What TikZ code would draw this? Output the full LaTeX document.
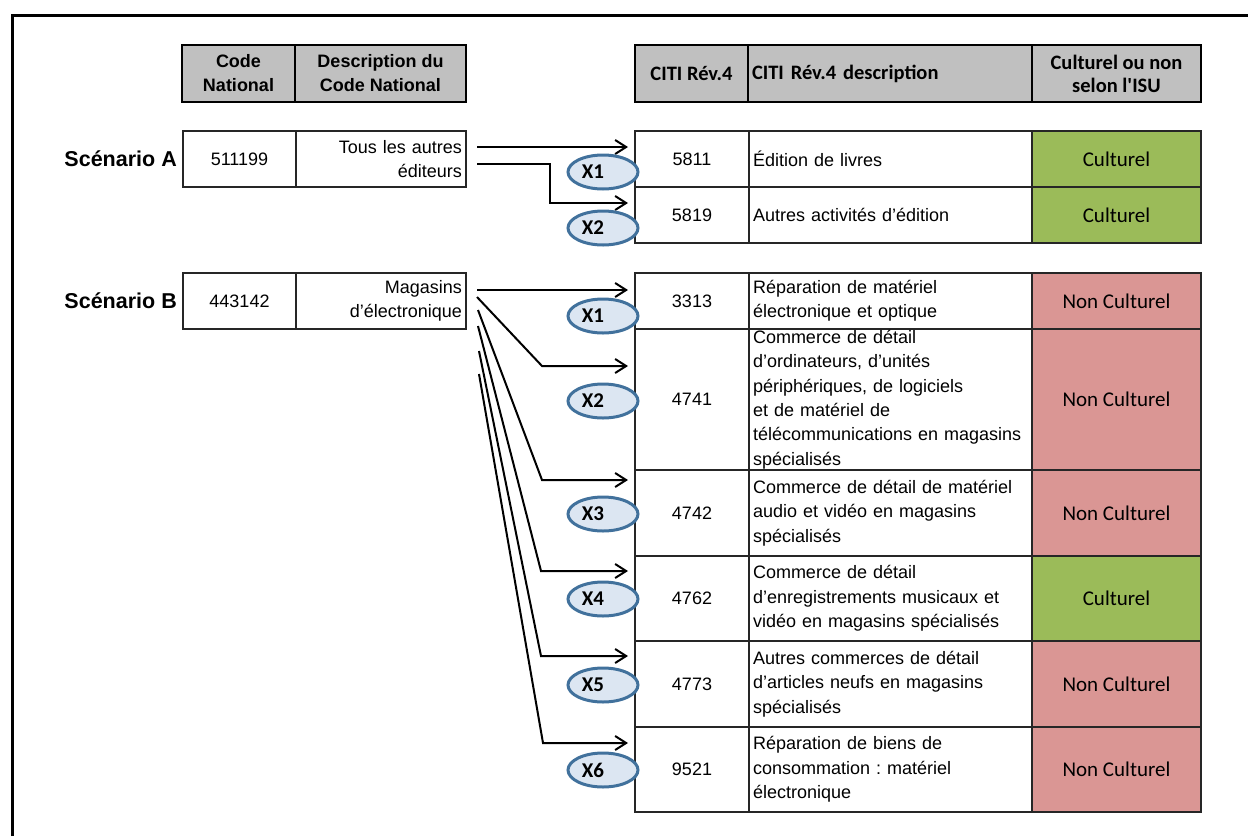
\documentclass[tikz,border=0pt]{standalone}
\usepackage{fontspec}
\setmainfont{Liberation Sans}
\newfontfamily\calibri{Carlito}
\usetikzlibrary{positioning, shapes.geometric, arrows.meta}
\frenchspacing

\definecolor{headgray}{RGB}{192,192,192}
\definecolor{isugreen}{RGB}{155,187,89}
\definecolor{isured}{RGB}{218,150,148}
\definecolor{ovalfill}{RGB}{220,230,242}
\definecolor{ovalline}{RGB}{65,113,156}

\newcommand\cellfont{\fontsize{18}{24.4}\selectfont}
\newcommand\headfont{\bfseries\fontsize{18}{24}\selectfont}
\newcommand\isufont{\calibri\fontsize{21}{24}\selectfont}
\newcommand\isuhead{\calibri\bfseries\fontsize{20.5}{23}\selectfont}

\tikzset{
  cell/.style={rectangle, draw=black!85, line width=1.2pt, outer sep=0pt,
    inner xsep=4pt, inner ysep=0pt, anchor=north west, font=\cellfont},
  head/.style={cell, draw=black, line width=2.5pt, fill=headgray, minimum height=57},
  codecell/.style={cell, minimum width=114, align=center},
  desccell/.style={cell, minimum width=283, text width=275, align=left},
  isucell/.style={cell, minimum width=169, font=\isufont},
  scen/.style={inner sep=0pt, font=\bfseries\fontsize{21.5}{24}\selectfont},
  oval/.style={ellipse, draw=ovalline, line width=3pt, fill=ovalfill,
    minimum width=70, minimum height=34, inner sep=0pt,
    font=\calibri\bfseries\fontsize{21}{24}\selectfont},
  link/.style={line width=2pt, shorten >=7pt,
    -{Straight Barb[length=11pt, width=14pt, line width=2pt]}}
}

\begin{document}
\begin{tikzpicture}[x=1pt, y=-1pt]
    \useasboundingbox (0,0) rectangle (1248,836);
    \draw[line width=3pt] (12,836) -- (12,15) -- (1248,15);

    % headers
    \node[head, minimum width=113, align=center, font=\headfont] (hcode) at (182,45) {Code\\National};
    \node[head, minimum width=171, align=center, font=\headfont] (hdesc) at (295,45) {Description du\\Code National};
    \node[head, minimum width=113, align=center, font=\isuhead] (hciti) at (635,45) {CITI Rév.4};
    \node[head, minimum width=284, text width=276, align=left, font=\isuhead] (hcitidesc) at (748,45) {CITI Rév.4 description};
    \node[head, minimum width=169, align=center, font=\isuhead] (hisu) at (1032,45) {Culturel ou non\\selon l'ISU};

    % national codes
    \node[cell, minimum width=113, minimum height=56] (codeA) at (183,131) {511199};
    \node[cell, minimum width=170, minimum height=56, text width=162, align=right] (descA) at (296,131) {Tous les autres\\éditeurs};
    \node[scen, left=6pt of codeA] (scenA) {Scénario A};
    \node[cell, minimum width=113, minimum height=56] (codeB) at (183,273) {443142};
    \node[cell, minimum width=170, minimum height=56, text width=162, align=right] (descB) at (296,273) {Magasins\\d’électronique};
    \node[scen, left=6pt of codeB] (scenB) {Scénario B};

    % CITI table
    \foreach \rcode/\ry/\rh/\rdesc/\rcol/\rlab in {
        5811/131/56/{Édition de livres}/isugreen/Culturel,
        5819/187/56/{Autres activités d’édition}/isugreen/Culturel,
        3313/273/56/{Réparation de matériel\\électronique et optique}/isured/Non Culturel,
        4741/329/141/{Commerce de détail\\d’ordinateurs, d’unités\\périphériques, de logiciels\\et de matériel de\\télécommunications en magasins\\spécialisés}/isured/Non Culturel,
        4742/470/86/{Commerce de détail de matériel\\audio et vidéo en magasins\\spécialisés}/isured/Non Culturel,
        4762/556/85/{Commerce de détail\\d’enregistrements musicaux et\\vidéo en magasins spécialisés}/isugreen/Culturel,
        4773/641/86/{Autres commerces de détail\\d’articles neufs en magasins\\spécialisés}/isured/Non Culturel,
        9521/727/85/{Réparation de biens de\\consommation : matériel\\électronique}/isured/Non Culturel}
    {
        \node[codecell, minimum height=\rh] (code\rcode) at (635,\ry) {\rcode};
        \node[desccell, minimum height=\rh] (desc\rcode) at (749,\ry) {\rdesc};
        \node[isucell, fill=\rcol, minimum height=\rh] (isu\rcode) at (1032,\ry) {\rlab};
    }

    % scenario A links
    \coordinate (sA1) at (477,147);
    \coordinate (sA2) at (477,164);
    \coordinate (kA2) at (550,203);
    \draw[link] (sA1) -- (sA1 -| code5811.west);
    \draw[link] (sA2) -| (kA2) -- (kA2 -| code5819.west);

    % scenario B links
    \coordinate (sB1) at (477,290);
    \draw[link] (sB1) -- (sB1 -| code3313.west);
    \foreach \i/\sx/\sy/\kx/\ky/\tgt in {2/477/297/542/366/4741, 3/478/310/542/480/4742,
        4/478/326/541/571/4762, 5/479/351/541/656/4773, 6/479/374/543/743/9521}
    {
        \coordinate (sB\i) at (\sx,\sy);
        \coordinate (kB\i) at (\kx,\ky);
        \draw[link] (sB\i) -- (kB\i) -- (kB\i -| code\tgt.west);
    }

    % ovals
    \foreach \nm/\oy/\olab in {A1/172/X1, A2/228/X2, B1/316/X1, B2/401/X2,
        B3/514/X3, B4/599/X4, B5/685/X5, B6/770/X6}
        \node[oval] (oval\nm) at (603,\oy) {\olab\hspace*{20pt}};
\end{tikzpicture}
\end{document}
